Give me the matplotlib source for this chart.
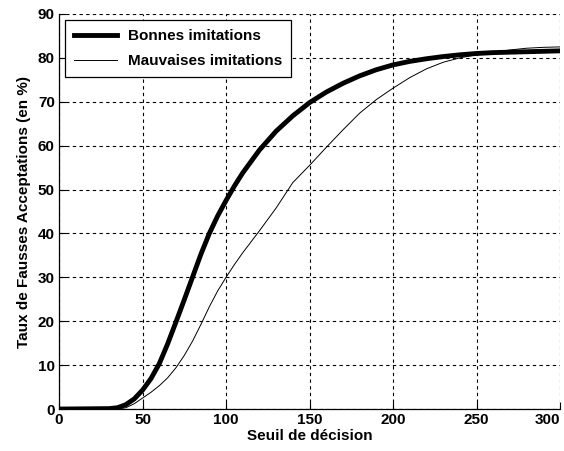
import matplotlib.pyplot as plt

# seuil de decision
x_bonnes = [0, 30, 35, 40, 45, 50, 55, 60, 65, 70, 75, 80, 85, 90, 95, 100,
            105, 110, 120, 130, 140, 150, 160, 170, 180, 190, 200, 210, 220,
            230, 240, 250, 260, 270, 280, 290, 300]
y_bonnes = [0, 0.1, 0.3, 1.0, 2.3, 4.3, 6.9, 10.3, 14.8, 19.8, 24.9, 30.1,
            35.3, 40.0, 44.0, 47.5, 50.8, 53.8, 59.0, 63.3, 66.8, 69.8, 72.2,
            74.2, 75.9, 77.3, 78.4, 79.2, 79.8, 80.3, 80.7, 81.0, 81.2, 81.3,
            81.4, 81.5, 81.6]

x_mauvaises = [0, 35, 40, 45, 50, 55, 60, 65, 70, 75, 80, 85, 90, 95, 100,
               105, 110, 120, 130, 140, 150, 160, 170, 180, 190, 200, 210, 220,
               230, 240, 250, 260, 270, 280, 290, 300]
y_mauvaises = [0, 0, 0.3, 1.2, 2.5, 3.8, 5.3, 7.1, 9.4, 12.2, 15.5, 19.3,
               23.3, 26.9, 30.0, 32.9, 35.6, 40.6, 45.8, 51.6, 55.5, 59.6,
               63.6, 67.4, 70.5, 73.1, 75.5, 77.5, 79.0, 80.0, 80.7, 81.3,
               81.8, 82.2, 82.4, 82.5]

xticks = [0, 50, 100, 150, 200, 250, 300]
yticks = [0, 10, 20, 30, 40, 50, 60, 70, 80, 90]

plt.rcParams['font.family'] = ['Liberation Sans', 'DejaVu Sans']
plt.rcParams['font.weight'] = 'bold'

fig = plt.figure(figsize=(5.64, 4.51), dpi=100)
ax = fig.add_axes([0.1046, 0.093, 0.8884, 0.876])

ax.plot(x_bonnes, y_bonnes, color='black', lw=3.5, label='Bonnes imitations')
ax.plot(x_mauvaises, y_mauvaises, color='black', lw=0.7, label='Mauvaises imitations')

ax.set_xlim(0, 300)
ax.set_ylim(0, 90)
ax.set_xticks(xticks)
ax.set_yticks(yticks)
ax.grid(True, color='black', linestyle=(0, (3, 3)), linewidth=0.8)
ax.tick_params(direction='in', length=5, labelsize=11, colors='black', pad=3)
ax.get_xticklabels()[-1].set_horizontalalignment('right')
for s in ['top', 'right']:
    ax.spines[s].set_visible(False)
for s in ['left', 'bottom']:
    ax.spines[s].set_linewidth(0.9)

ax.set_xlabel('Seuil de décision', fontsize=11, fontweight='bold', labelpad=1)
ax.set_ylabel('Taux de Fausses Acceptations (en %)', fontsize=11, fontweight='bold', labelpad=5)

leg = ax.legend(loc='upper left', fontsize=11, fancybox=False, framealpha=1,
                edgecolor='black', handlelength=2.8, handletextpad=0.7,
                borderaxespad=0.4, borderpad=0.6, labelspacing=0.7)
leg.get_frame().set_linewidth(0.9)
for t in leg.get_texts():
    t.set_fontweight('bold')

fig.savefig('out.png', dpi=100)
